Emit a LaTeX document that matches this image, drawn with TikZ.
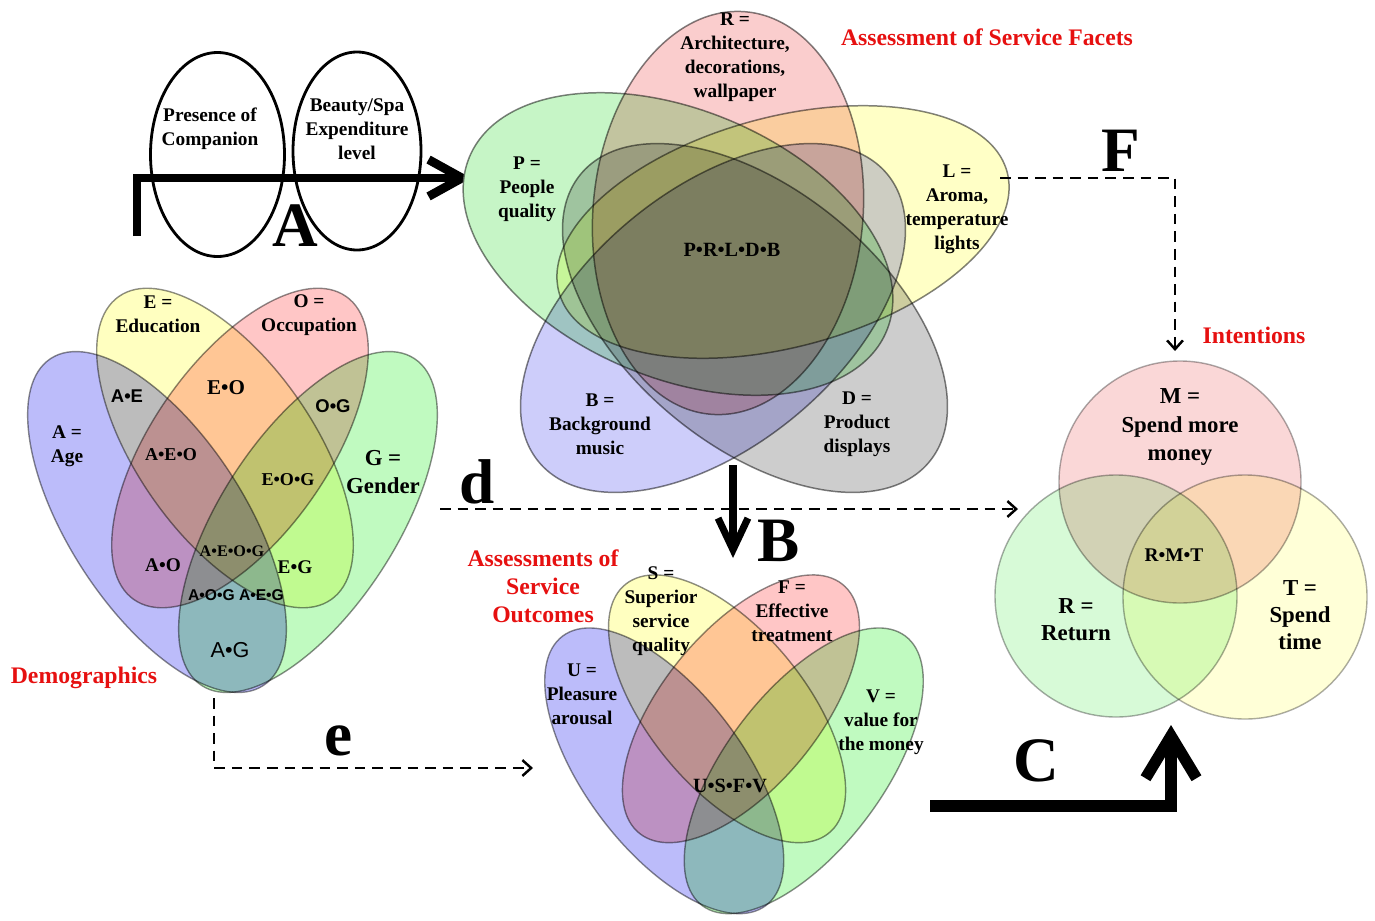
\documentclass[tikz,border=0pt]{standalone}
\usepackage{fontspec}
\setmainfont{Liberation Serif}
\newfontfamily\sansf{Liberation Sans}
\usetikzlibrary{arrows.meta}
\definecolor{vGreen}{RGB}{198,245,198}
\definecolor{vPink}{RGB}{250,205,205}
\definecolor{vYellow}{RGB}{255,255,198}
\definecolor{vBlue}{RGB}{205,205,250}
\definecolor{vGray}{RGB}{205,205,205}
\definecolor{dBlue}{RGB}{188,188,250}
\definecolor{dGreen}{RGB}{192,250,192}
\definecolor{dYellow}{RGB}{255,255,192}
\definecolor{dPink}{RGB}{255,198,198}
\definecolor{iPink}{RGB}{250,215,215}
\definecolor{iGreen}{RGB}{215,250,215}
\definecolor{iYellow}{RGB}{255,255,215}
\definecolor{lblred}{RGB}{230,16,16}
\newcommand\fourvenn{%
  \begin{scope}[blend group=multiply]
  \filldraw[venn4, fill=dBlue, rotate around={-57:(-75.5,242)}] (-75.5,242) ellipse [x radius=195, y radius=88];
  \filldraw[venn4, fill=dGreen, rotate around={57:(75.5,242)}] (75.5,242) ellipse [x radius=195, y radius=88];
  \filldraw[venn4, fill=dYellow, rotate around={-55:(-7.5,168)}] (-7.5,168) ellipse [x radius=185, y radius=88];
  \filldraw[venn4, fill=dPink, rotate around={55:(7.5,168)}] (7.5,168) ellipse [x radius=185, y radius=88];
  \end{scope}
}
\begin{document}
\begin{tikzpicture}[x=0.02cm, y=-0.02cm,
  venn/.style={draw=black!62, draw opacity=0.8, line width=0.85pt},
  venn4/.style={draw=black!60, draw opacity=0.75, line width=0.8pt},
  venn3/.style={draw=black!55, draw opacity=0.6, line width=0.8pt},
  txt/.style={font=\bfseries\fontsize{11}{13.6}\selectfont, align=center, inner sep=0pt},
  txtL/.style={font=\bfseries\fontsize{13}{16.4}\selectfont, align=center, inner sep=0pt},
  txtS/.style={font=\bfseries\fontsize{10.3}{12}\selectfont, inner sep=0pt},
  sanslbl/.style={font=\sansf\bfseries\fontsize{10.5}{12}\selectfont, inner sep=0pt},
  redlbl/.style={text=lblred, font=\bfseries\fontsize{13.5}{16}\selectfont, align=center, inner sep=0pt},
  bigl/.style={font=\bfseries\fontsize{36}{40}\selectfont, inner sep=0pt},
  ellnode/.style={draw, line width=1.6pt},
  dasharrow/.style={line width=1.5pt, dash pattern=on 6pt off 4pt, -{Straight Barb[length=5pt,width=9pt,line width=1.4pt]}}
]
\useasboundingbox (0,0) rectangle (1375,920);

% ---------- Section A ----------
\draw[ellnode] (217.5,154.5) ellipse [x radius=67, y radius=102];
\draw[ellnode] (357,151) ellipse [x radius=64, y radius=99];
\node[txt] (pc) at (210,129) {Presence of\\Companion};
\node[txt] (be) at (357,129) {Beauty/Spa\\Expenditure\\level};
\coordinate (aS) at (137,236);
\coordinate (aE) at (471,178);
\draw[line width=5pt, line join=miter, -{Straight Barb[length=19pt,width=21pt]}] (aS) |- (aE);
\node[bigl] (lA) at (295,226) {A};

% ---------- Top Venn: service facets ----------
\begin{scope}[blend group=multiply]
\filldraw[venn, fill=vGreen, rotate around={-22.7:(678,244)}] (678,244) ellipse [x radius=226, y radius=134];
\filldraw[venn, fill=vPink, rotate around={-5:(728,213)}] (728,213) ellipse [x radius=135, y radius=202];
\filldraw[venn, fill=vYellow, rotate around={15:(783,232)}] (783,232) ellipse [x radius=232, y radius=115];
\filldraw[venn, fill=vBlue, rotate around={39.5:(713,318)}] (713,318) ellipse [x radius=226, y radius=128];
\filldraw[venn, fill=vGray, rotate around={-39.5:(755,318)}] (755,318) ellipse [x radius=226, y radius=128];
\end{scope}
\node[txt] (tR) at (735,57) {R =\\Architecture,\\decorations,\\wallpaper};
\node[txt] (tP) at (527,189) {P =\\People\\quality};
\node[txt] (tL) at (957,209) {L =\\Aroma,\\temperature\\lights};
\node[txt, font=\bfseries\fontsize{11.5}{13}\selectfont] (tPRLDB) at (732,250) {P•R•L•D•B};
\node[txt] (tB) at (600,424) {B =\\Background\\music};
\node[txt] (tD) at (857,424) {D =\\Product\\displays};
\node[redlbl] (rFacets) at (987,37) {Assessment of Service Facets};

% ---------- Demographics Venn ----------
\begin{scope}[shift={(232.5,280)}]
\fourvenn
\end{scope}
\node[txt] (dE) at (158,314) {E =\\Education};
\node[txt] (dO) at (309,315) {O =\\Occupation};
\node[txt] (dA) at (67,446) {A =\\Age};
\node[txtL] (dG) at (383,472) {G =\\Gender};
\node[sanslbl] (dAE) at (127,396) {A•E};
\node[txtS, font=\bfseries\fontsize{12}{13}\selectfont] (dEO) at (226,388) {E•O};
\node[sanslbl] (dOG) at (333,406) {O•G};
\node[txtS] (dAEO) at (171,455) {A•E•O};
\node[txtS] (dEOG) at (288,480) {E•O•G};
\node[txtS, font=\bfseries\fontsize{9.2}{11}\selectfont] (dAEOG) at (232,551) {A•E•O•G};
\node[txtS, font=\bfseries\fontsize{11}{13}\selectfont] (dAO) at (163,565) {A•O};
\node[txtS, font=\bfseries\fontsize{11}{13}\selectfont] (dEG) at (295,567) {E•G};
\node[sanslbl, font=\sansf\bfseries\fontsize{8.9}{11}\selectfont] (dAOG) at (236,595) {A•O•G A•E•G};
\node[sanslbl, font=\sansf\fontsize{12.3}{14}\selectfont] (dAG) at (230,650) {A•G};
\node[redlbl] (rDemo) at (84,678) {Demographics};

% ---------- Outcomes Venn ----------
\begin{scope}[shift={(734,568)}, xscale=0.924, yscale=0.838]
\fourvenn
\end{scope}
\node[txt] (oS) at (661,611) {S =\\Superior\\service\\quality};
\node[txt] (oF) at (792,611) {F =\\Effective\\treatment};
\node[txt] (oU) at (582,694) {U =\\Pleasure\\arousal};
\node[txt] (oV) at (881,722) {V =\\value for\\the money};
\node[txt, font=\bfseries\fontsize{11.5}{13}\selectfont] (oUSFV) at (730,786) {U•S•F•V};
\node[redlbl] (rOut) at (543,586) {Assessments of\\Service\\Outcomes};

% ---------- Intentions Venn ----------
\begin{scope}[blend group=multiply]
\filldraw[venn3, fill=iPink] (1180,482) circle [radius=121];
\filldraw[venn3, fill=iGreen] (1116,596) circle [radius=121];
\filldraw[venn3, fill=iYellow] (1245,597) circle [radius=122];
\end{scope}
\node[txtL] (iM) at (1180,427) {M =\\Spend more\\money};
\node[txt] (iRMT) at (1174,555) {R•M•T};
\node[txtL, font=\bfseries\fontsize{13}{15.5}\selectfont] (iR) at (1076,620) {R =\\Return};
\node[txtL, font=\bfseries\fontsize{13}{15.5}\selectfont] (iT) at (1300,615) {T =\\Spend\\time};
\node[redlbl] (rInt) at (1254,335) {Intentions};

% ---------- Arrows ----------
\coordinate (bS) at (733,465);
\coordinate (bE) at (733,558);
\draw[line width=4pt, -{Straight Barb[length=18pt,width=17pt]}] (bS) -- (bE);
\node[bigl] (lB) at (779,541) {B};

\coordinate (cS) at (930,806);
\coordinate (cE) at (1171,725);
\draw[line width=6.5pt, line join=miter, -{Straight Barb[length=24pt,width=29pt]}] (cS) -| (cE);
\node[bigl] (lC) at (1036,761) {C};

\coordinate (dS) at (440,509);
\coordinate (dEnd) at (1018,509);
\draw[dasharrow] (dS) -- (dEnd);
\node[bigl] (ld) at (477,482) {d};

\coordinate (eS) at (214,698);
\coordinate (eEnd) at (533,768);
\draw[dasharrow] (eS) |- (eEnd);
\node[bigl] (le) at (339,741) {e};

\coordinate (fS) at (1000,178);
\coordinate (fEnd) at (1175,351);
\draw[dasharrow] (fS) -| (fEnd);
\node[bigl] (lF) at (1121,151) {F};
\end{tikzpicture}
\end{document}
